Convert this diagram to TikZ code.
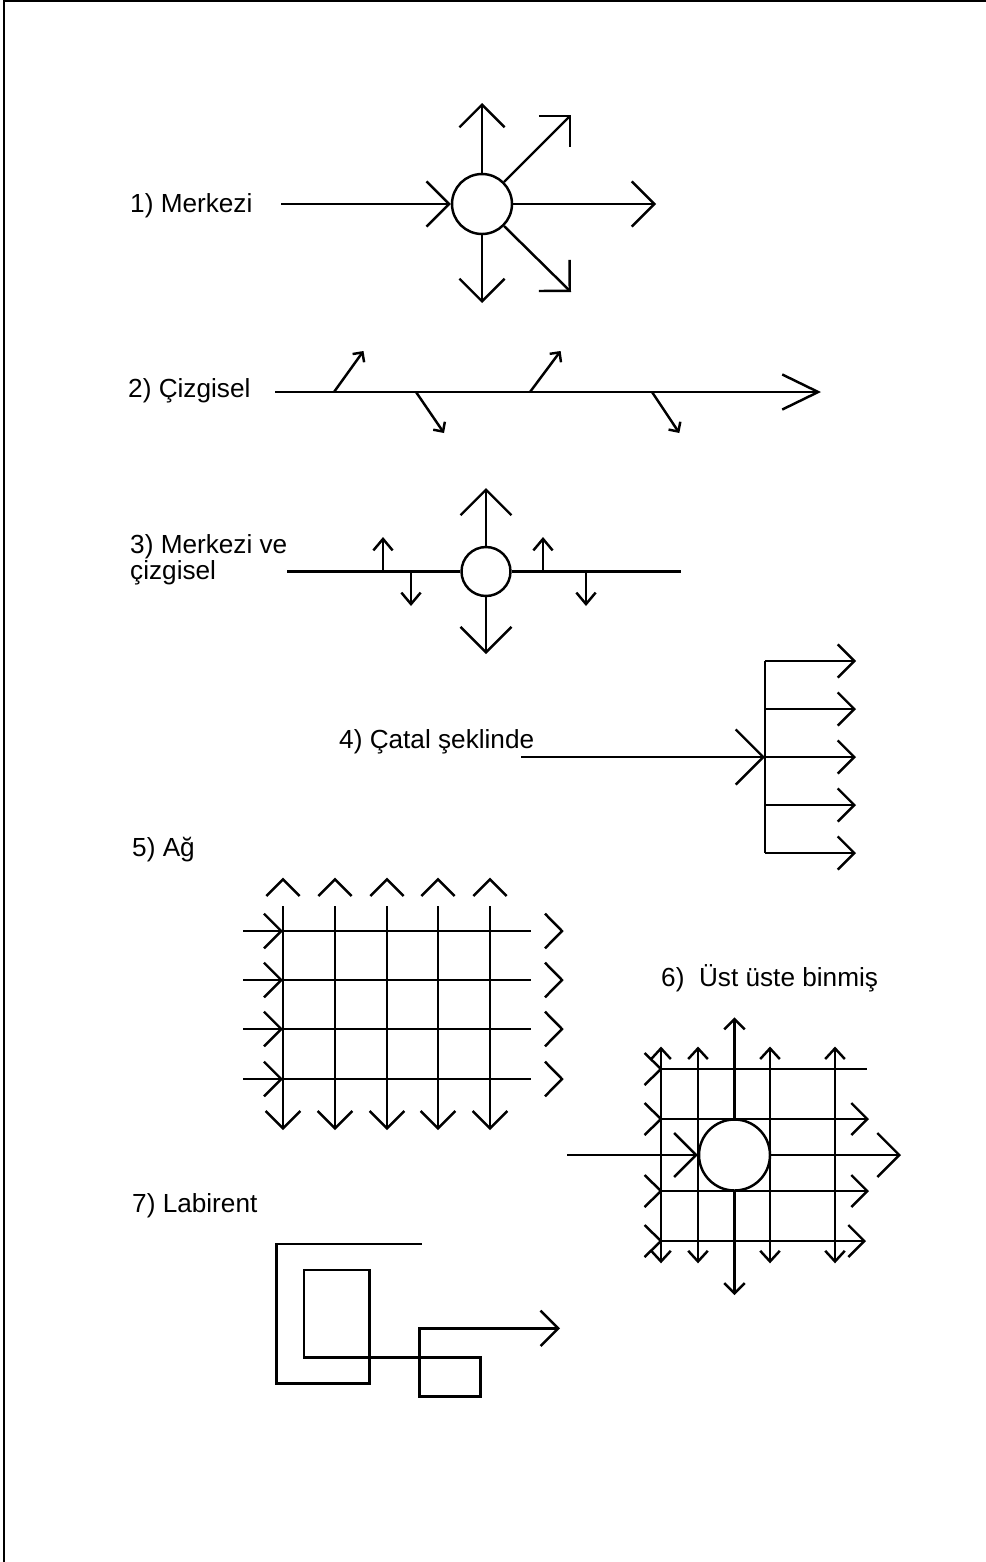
\documentclass[tikz,border=0pt]{standalone}
\usepackage{fontspec}
\setmainfont{Liberation Sans}
\usetikzlibrary{arrows.meta}

\begin{document}
\begin{tikzpicture}[
  x=0.02cm, y=-0.02cm,
  line width=1.4pt,
  lbl/.style={anchor=base west, inner sep=0pt, align=left,
              font=\fontsize{14.9pt}{14.8pt}\selectfont},
  hub/.style={draw, circle, inner sep=0pt},
  headto/.style={-{Straight Barb[angle=90:#1]}},
  mainhead/.style={-{Straight Barb[angle=52:0.8cm]}},
  smallhead/.style={-{Straight Barb[angle=80:0.3cm]}},
  bothhead/.style={{Straight Barb[angle=85:0.29cm]}-{Straight Barb[angle=85:0.29cm]}},
]
\useasboundingbox (0,0) rectangle (986,1562);

% ---- page edge ----
\draw[line width=0.8pt] (4,1562) -- (4,1) -- (986,1);

% ---- 1) Merkezi ----
\node[lbl] (lbl1) at (129,212) {1) Merkezi};
\node[hub, minimum size=1.2cm] (c1) at (482,204) {};
\coordinate (c1in) at (281,204);
\draw[headto=0.64cm] (c1in) -- (c1.west);
\draw[headto=0.64cm] (c1.north) -- (482,103);
\draw[headto=0.64cm] (c1.south) -- (482,303);
\draw[headto=0.64cm] (c1.east) -- (656,204);
\draw[headto=0.62cm] (c1.north east) -- (571,115);
\draw[headto=0.62cm] (c1.south east) -- (571,292);

% ---- 2) Cizgisel ----
\node[lbl] (lbl2) at (127,397) {2) Çizgisel};
\coordinate (s2a) at (275,392);
\coordinate (s2b) at (821,392);
\draw[mainhead] (s2a) -- (s2b);
\foreach \bx/\tx/\ty in {334/363.5/351, 416/444/433, 530/560.6/351, 652/679.3/433}
  \draw[headto=0.2cm] (\bx,392) -- (\tx,\ty);

% ---- 3) Merkezi ve cizgisel ----
\node[lbl] (lbl3) at (129,579.3) {3) Merkezi ve\\çizgisel};
\node[hub, minimum size=0.98cm] (c3) at (486,571.5) {};
\coordinate (s3a) at (287,571.5);
\coordinate (s3b) at (681,571.5);
\draw (s3a) -- (c3.west);
\draw (c3.east) -- (s3b);
\draw[headto=0.72cm] (c3.north) -- (486,488);
\draw[headto=0.72cm] (c3.south) -- (486,654);
\foreach \x in {383,543}
  \draw[smallhead] (\x,571.5) -- (\x,537);
\foreach \x in {411,586}
  \draw[smallhead] (\x,571.5) -- (\x,606);

% ---- 4) Catal seklinde ----
\node[lbl] (lbl4) at (338,748) {4) Çatal şeklinde};
\coordinate (fork) at (765,757);
\draw[headto=0.78cm] (521,757) -- (fork);
\draw (765,661) -- (765,853);
\foreach \y in {661,709,757,805,853}
  \draw[headto=0.47cm] (765,\y) -- (856,\y);

% ---- 5) Ag ----
\node[lbl] (lbl5) at (131,856) {5) Ağ};
\foreach \x in {283,335,387,438,490} {
  \draw[headto=0.49cm] (\x,906) -- (\x,1130);
  \draw (\x-16.7,896) -- (\x,879.3) -- (\x+16.7,896);
}
\foreach \y in {931,980,1029,1079} {
  \draw[headto=0.49cm] (243,\y) -- (283,\y);
  \draw (283,\y) -- (531,\y);
  \draw (545,\y-17.3) -- (562,\y) -- (545,\y+17.3);
}

% ---- 6) Ust uste binmis ----
\node[lbl] (lbl6) at (660,986) {6)\ \ Üst üste binmiş};
\node[hub, minimum size=1.42cm] (c6) at (734.5,1155) {};
\foreach \x in {661,698,770,835}
  \draw[bothhead] (\x,1046.5) -- (\x,1263.3);
\draw[headto=0.29cm] (c6.north) -- (734.5,1017.3);
\draw[headto=0.29cm] (c6.south) -- (734.5,1295);
\draw (661,1069) -- (867,1069);
\foreach \y in {1119,1191}
  \draw[headto=0.45cm] (661,\y) -- (869,\y);
\draw[headto=0.45cm] (661,1241) -- (866,1241);
\foreach \y in {1069,1119,1191,1241}
  \draw (644.5,\y-16) -- (661,\y) -- (644.5,\y+16);
\coordinate (c6in) at (567,1155);
\coordinate (c6out) at (901,1155);
\draw[headto=0.62cm] (c6in) -- (c6.west);
\draw[headto=0.62cm] (c6.east) -- (c6out);

% ---- 7) Labirent ----
\node[lbl] (lbl7) at (131,1212) {7) Labirent};
\draw[headto=0.5cm] (421.7,1244) -- (276.7,1244) -- (276.7,1383.3)
  -- (369.3,1383.3) -- (369.3,1270) -- (304,1270) -- (304,1357.3)
  -- (480.7,1357.3) -- (480.7,1396.7) -- (419.3,1396.7)
  -- (419.3,1328.3) -- (560,1328.3);

\end{tikzpicture}
\end{document}
